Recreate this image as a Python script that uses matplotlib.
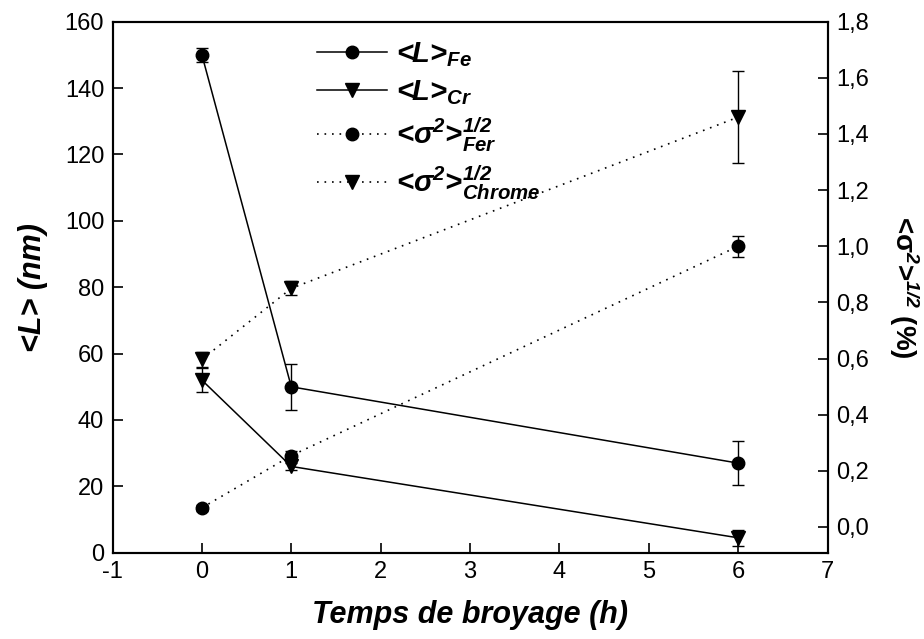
import matplotlib
matplotlib.use("Agg")
import matplotlib.pyplot as plt
from matplotlib.font_manager import FontProperties
from matplotlib.ticker import FuncFormatter

plt.rcParams["font.family"] = "Liberation Sans"
plt.rcParams["axes.unicode_minus"] = False
plt.rcParams["mathtext.fontset"] = "custom"
plt.rcParams["mathtext.rm"] = "Liberation Sans:bold:italic"
plt.rcParams["mathtext.it"] = "Liberation Sans:bold:italic"
plt.rcParams["mathtext.bf"] = "Liberation Sans:bold:italic"

# milling time (h)
time_h = [0, 1, 6]

# crystallite size <L> (nm)
L_fe = [150, 50, 27]
L_fe_err = [2, 7, 6.7]
L_cr = [52, 26, 4.5]
L_cr_err = [3.6, 1, 2.5]

# microstrain <sigma^2>^1/2 (%)
sig_fer = [0.068, 0.254, 1.0]
sig_fer_err = [0.01, 0.015, 0.037]
sig_cr = [0.597, 0.85, 1.46]
sig_cr_err = [0.028, 0.025, 0.165]

bold_it = dict(family="Liberation Sans", weight="bold", style="italic")

fig = plt.figure(figsize=(9.24, 6.39), dpi=100)
ax = fig.add_axes([0.1218, 0.135, 0.7738, 0.831])
ax2 = ax.twinx()

dotted = (0, (1, 3.5))

h1, = ax.plot(time_h, L_fe, "-", color="black", lw=1.1, marker="o", ms=9,
              label="<L>$_{Fe}$")
ax.errorbar(time_h, L_fe, yerr=L_fe_err, fmt="none", ecolor="black",
            elinewidth=1, capsize=4, capthick=1)
h2, = ax.plot(time_h, L_cr, "-", color="black", lw=1.1, marker="v", ms=10,
              label="<L>$_{Cr}$")
ax.errorbar(time_h, L_cr, yerr=L_cr_err, fmt="none", ecolor="black",
            elinewidth=1, capsize=4, capthick=1)

h3, = ax2.plot(time_h, sig_fer, color="black", lw=1.2, ls=dotted, marker="o",
               ms=9, label="<σ$^2$>$^{1/2}_{Fer}$")
ax2.errorbar(time_h, sig_fer, yerr=sig_fer_err, fmt="none", ecolor="black",
             elinewidth=1, capsize=4, capthick=1)
h4, = ax2.plot(time_h, sig_cr, color="black", lw=1.2, ls=dotted, marker="v",
               ms=10, label="<σ$^2$>$^{1/2}_{Chrome}$")
ax2.errorbar(time_h, sig_cr, yerr=sig_cr_err, fmt="none", ecolor="black",
             elinewidth=1, capsize=4, capthick=1)

ax.set_xlim(-1, 7)
ax.set_ylim(0, 160)
ax2.set_ylim(-0.092, 1.8)
ax.set_xticks(range(-1, 8))
ax.set_yticks(range(0, 161, 20))
ax2.set_yticks([i * 0.2 for i in range(10)])
ax2.yaxis.set_major_formatter(FuncFormatter(lambda v, p: f"{v:.1f}".replace(".", ",")))

for a in (ax, ax2):
    for s in a.spines.values():
        s.set_linewidth(1.5)
ax.tick_params(axis="both", direction="in", length=7, width=1.2,
               labelsize=17, top=False, right=False, pad=6)
ax2.tick_params(axis="y", direction="in", length=7, width=1.2,
                labelsize=17, pad=6)

ax.set_xlabel("Temps de broyage (h)", fontsize=22, labelpad=12, **bold_it)
ax.set_ylabel("<L> (nm)", fontsize=22, labelpad=12, **bold_it)
ax2.set_ylabel("<σ$^2$>$^{1/2}$ (%)", fontsize=20, rotation=270,
               labelpad=38, family="Liberation Sans", weight="bold")

leg = ax2.legend(handles=[h1, h2, h3, h4], loc="upper left",
                 bbox_to_anchor=(0.26, 1.0), frameon=False,
                 prop=FontProperties(size=21, **bold_it),
                 handlelength=2.4, handletextpad=0.3, labelspacing=0.3,
                 borderaxespad=0.25)

fig.savefig("out.png", dpi=100)
